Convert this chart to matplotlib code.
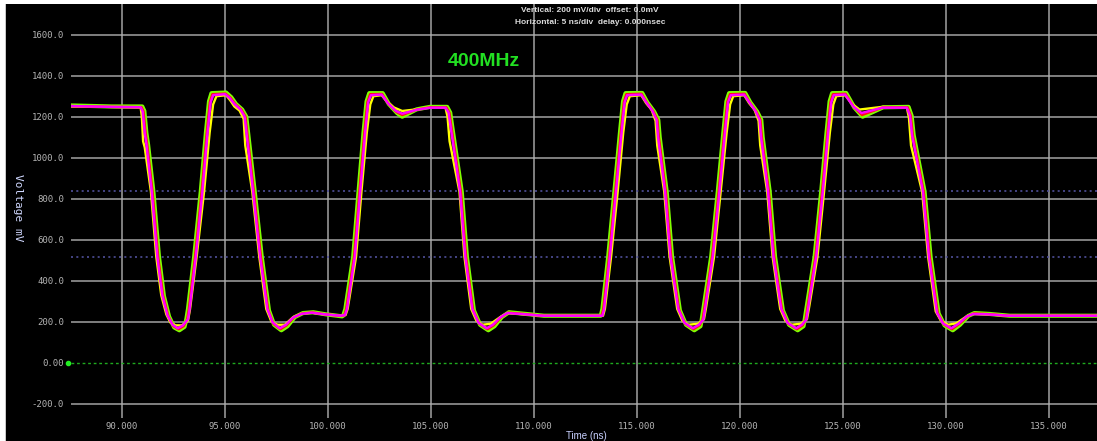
import matplotlib
matplotlib.use("Agg")
import matplotlib.pyplot as plt
from matplotlib.patches import Rectangle
import numpy as np

# axis ticks
y_ticks = [-200, 0, 200, 400, 600, 800, 1000, 1200, 1400, 1600]
y_tick_labels = ["-200.0", "0.00", "200.0", "400.0", "600.0", "800.0",
                 "1000.0", "1200.0", "1400.0", "1600.0"]
x_ticks = [90, 95, 100, 105, 110, 115, 120, 125, 130, 135]
x_tick_labels = ["90.000", "95.000", "100.000", "105.000", "110.000",
                 "115.000", "120.000", "125.000", "130.000", "135.000"]

# threshold markers (mV)
thresholds = [837, 516]

# traces: (time ns, voltage mV)
green_pts = [
    (87.5, 1255), (89.5, 1250), (90.98, 1250), (91.08, 1228), (91.18, 1120), (91.26, 1065),
    (91.52, 834), (91.79, 517), (92.03, 325), (92.28, 225), (92.53, 172), (92.78, 158),
    (93.03, 175), (93.12, 212),
    (93.2, 262), (93.5, 517), (93.82, 834), (94.07, 1122), (94.22, 1275), (94.34, 1315),
    (95.05, 1318), (95.3, 1295), (95.53, 1262), (95.83, 1235), (96.03, 1200), (96.13, 1110),
    (96.44, 834), (96.78, 517), (97.13, 255), (97.38, 185), (97.73, 158), (98.03, 178),
    (98.38, 222), (98.78, 242), (99.28, 246), (99.88, 236), (100.68, 226), (100.74, 230),
    (100.84, 262), (101.22, 517), (101.48, 834), (101.72, 1122), (101.87, 1275), (102.0, 1315),
    (102.65, 1315), (102.95, 1262), (103.35, 1218), (103.6, 1200), (104.3, 1236), (104.95, 1248),
    (105.78, 1248), (105.93, 1220), (106.03, 1150), (106.49, 834), (106.74, 517), (107.08, 255),
    (107.38, 185), (107.78, 158), (108.08, 178), (108.43, 222), (108.78, 246), (109.38, 240),
    (110.48, 229), (113.24, 229),
    (113.32, 262), (113.6, 517), (113.9, 834), (114.17, 1122), (114.32, 1275), (114.44, 1315),
    (115.25, 1316), (115.5, 1270), (115.83, 1225), (116.03, 1185), (116.1, 1100), (116.44, 834),
    (116.7, 517), (117.08, 255), (117.38, 185), (117.78, 158), (118.08, 178), (118.14, 210),
    (118.22, 262), (118.6, 517), (118.92, 834), (119.19, 1122), (119.34, 1275), (119.47, 1315),
    (120.25, 1316), (120.5, 1270), (120.83, 1225), (121.03, 1185), (121.1, 1100), (121.44, 834),
    (121.7, 517), (122.08, 255), (122.38, 185), (122.8, 158), (123.08, 178), (123.14, 210),
    (123.22, 262), (123.62, 517), (123.94, 834), (124.2, 1122), (124.35, 1275), (124.47, 1315),
    (125.15, 1316), (125.55, 1245), (125.95, 1200), (126.95, 1246), (128.18, 1248), (128.33, 1205),
    (128.43, 1110), (128.96, 834), (129.25, 517), (129.64, 240), (129.93, 182), (130.33, 158),
    (130.68, 185), (131.08, 228), (131.38, 242), (132.08, 238), (133.08, 229), (137.4, 229),
]

yellow_pts = [
    (87.5, 1250), (89.5, 1248), (90.9, 1245), (90.96, 1200), (91.02, 1080), (91.1, 1050),
    (91.4, 834), (91.66, 517), (91.9, 330), (92.15, 235), (92.35, 195), (92.6, 182),
    (92.9, 182), (93.2, 205),
    (93.3, 262), (93.62, 517), (93.98, 834), (94.25, 1122), (94.42, 1260), (94.58, 1300),
    (95.05, 1305), (95.25, 1280), (95.45, 1250), (95.7, 1230), (95.9, 1190), (95.98, 1060),
    (96.32, 834), (96.66, 517), (97.0, 262), (97.25, 200), (97.55, 185), (97.9, 185),
    (98.3, 222), (98.7, 240), (99.2, 244), (99.8, 236), (100.6, 229), (100.85, 232),
    (100.95, 262), (101.36, 517), (101.62, 834), (101.88, 1122), (102.05, 1260), (102.2, 1300),
    (102.6, 1305), (102.85, 1275), (103.2, 1245), (103.6, 1228), (104.3, 1236), (104.95, 1246),
    (105.7, 1244), (105.8, 1200), (105.9, 1080), (106.38, 834), (106.62, 517), (106.95, 262),
    (107.2, 205), (107.5, 185), (107.9, 190), (108.35, 222), (108.7, 242), (109.3, 238),
    (110.4, 229), (113.35, 229),
    (113.44, 262), (113.74, 517), (114.06, 834), (114.33, 1122), (114.5, 1260), (114.65, 1300),
    (115.2, 1305), (115.45, 1265), (115.7, 1235), (115.9, 1180), (115.98, 1060), (116.32, 834),
    (116.58, 517), (116.95, 262), (117.2, 205), (117.5, 185), (117.95, 190), (118.25, 212),
    (118.34, 262), (118.74, 517), (119.06, 834), (119.35, 1122), (119.52, 1260), (119.67, 1300),
    (120.2, 1305), (120.45, 1265), (120.7, 1235), (120.9, 1180), (120.98, 1060), (121.32, 834),
    (121.58, 517), (121.95, 262), (122.2, 205), (122.5, 185), (122.95, 190), (123.25, 212),
    (123.34, 262), (123.76, 517), (124.08, 834), (124.36, 1122), (124.53, 1260), (124.67, 1300),
    (125.1, 1305), (125.45, 1262), (125.8, 1235), (126.9, 1248), (128.1, 1244), (128.2, 1195),
    (128.3, 1060), (128.84, 834), (129.13, 517), (129.5, 250), (129.75, 205), (130.1, 185),
    (130.5, 192), (131.0, 226), (131.3, 238), (132.0, 236), (133.0, 229), (137.4, 229),
]

red_pts = [
    (87.5, 1252), (89.5, 1248), (90.94, 1247), (91.04, 1226), (91.14, 1120), (91.22, 1065),
    (91.48, 834), (91.75, 517), (91.99, 328), (92.24, 228), (92.49, 178), (92.74, 163),
    (92.99, 178), (93.16, 212),
    (93.24, 262), (93.54, 517), (93.86, 834), (94.11, 1122), (94.26, 1272), (94.38, 1310),
    (95.02, 1313), (95.26, 1293), (95.49, 1262), (95.79, 1235), (95.99, 1200), (96.09, 1110),
    (96.4, 834), (96.74, 517), (97.09, 258), (97.34, 190), (97.69, 163), (97.99, 182),
    (98.34, 221), (98.74, 240), (99.24, 245), (99.84, 236), (100.64, 228), (100.78, 231),
    (100.88, 262), (101.26, 517), (101.52, 834), (101.76, 1122), (101.91, 1272), (102.04, 1310),
    (102.62, 1311), (102.92, 1265), (103.32, 1223), (103.6, 1208), (104.3, 1235), (104.95, 1246),
    (105.74, 1246), (105.89, 1220), (105.99, 1150), (106.45, 834), (106.7, 517), (107.04, 258),
    (107.34, 190), (107.74, 163), (108.04, 182), (108.39, 221), (108.74, 244), (109.34, 239),
    (110.44, 229), (113.28, 229),
    (113.36, 262), (113.64, 517), (113.94, 834), (114.21, 1122), (114.36, 1272), (114.48, 1310),
    (115.22, 1312), (115.47, 1270), (115.79, 1226), (115.99, 1185), (116.06, 1100), (116.4, 834),
    (116.66, 517), (117.04, 258), (117.34, 190), (117.74, 163), (118.04, 182), (118.18, 210),
    (118.26, 262), (118.64, 517), (118.96, 834), (119.23, 1122), (119.38, 1272), (119.51, 1310),
    (120.22, 1312), (120.47, 1270), (120.79, 1226), (120.99, 1185), (121.06, 1100), (121.4, 834),
    (121.66, 517), (122.04, 258), (122.34, 190), (122.76, 163), (123.04, 182), (123.18, 210),
    (123.26, 262), (123.66, 517), (123.98, 834), (124.24, 1122), (124.39, 1272), (124.51, 1310),
    (125.12, 1312), (125.52, 1248), (125.92, 1208), (126.92, 1245), (128.14, 1246), (128.29, 1205),
    (128.39, 1110), (128.92, 834), (129.21, 517), (129.6, 242), (129.89, 187), (130.29, 163),
    (130.64, 188), (131.04, 226), (131.34, 240), (132.04, 237), (133.04, 229), (137.4, 229),
]

magenta_pts = [
    (87.5, 1252), (89.5, 1248), (90.9, 1246), (91.0, 1225), (91.1, 1120), (91.18, 1065),
    (91.44, 834), (91.71, 517), (91.95, 330), (92.2, 232), (92.45, 185), (92.7, 168),
    (92.95, 182), (93.2, 212),
    (93.28, 262), (93.58, 517), (93.9, 834), (94.15, 1122), (94.3, 1270), (94.42, 1305),
    (95.0, 1310), (95.22, 1292), (95.45, 1262), (95.75, 1235), (95.95, 1200), (96.05, 1110),
    (96.36, 834), (96.7, 517), (97.05, 262), (97.3, 198), (97.65, 168), (97.95, 185),
    (98.3, 220), (98.7, 238), (99.2, 244), (99.8, 236), (100.6, 229), (100.82, 232),
    (100.92, 262), (101.3, 517), (101.56, 834), (101.8, 1122), (101.95, 1270), (102.08, 1305),
    (102.6, 1308), (102.9, 1267), (103.3, 1228), (103.6, 1215), (104.3, 1234), (104.95, 1244),
    (105.7, 1244), (105.85, 1220), (105.95, 1150), (106.41, 834), (106.66, 517), (107.0, 262),
    (107.3, 195), (107.7, 168), (108.0, 185), (108.35, 220), (108.7, 242), (109.3, 238),
    (110.4, 229), (113.32, 229),
    (113.4, 262), (113.68, 517), (113.98, 834), (114.25, 1122), (114.4, 1270), (114.52, 1305),
    (115.2, 1308), (115.45, 1270), (115.75, 1228), (115.95, 1185), (116.02, 1100), (116.36, 834),
    (116.62, 517), (117.0, 262), (117.3, 195), (117.7, 168), (118.0, 185), (118.22, 210),
    (118.3, 262), (118.68, 517), (119.0, 834), (119.27, 1122), (119.42, 1270), (119.55, 1305),
    (120.2, 1308), (120.45, 1270), (120.75, 1228), (120.95, 1185), (121.02, 1100), (121.36, 834),
    (121.62, 517), (122.0, 262), (122.3, 195), (122.72, 168), (123.0, 185), (123.22, 210),
    (123.3, 262), (123.7, 517), (124.02, 834), (124.28, 1122), (124.43, 1270), (124.55, 1305),
    (125.1, 1308), (125.5, 1250), (125.9, 1218), (126.9, 1244), (128.1, 1244), (128.25, 1205),
    (128.35, 1110), (128.88, 834), (129.17, 517), (129.56, 244), (129.85, 192), (130.25, 168),
    (130.6, 190), (131.0, 225), (131.3, 237), (132.0, 236), (133.0, 229), (137.4, 229),
]

traces = [
    (green_pts, "#7fff00", 3.0),
    (yellow_pts, "#ffff00", 1.7),
    (red_pts, "#ff1010", 1.7),
    (magenta_pts, "#ff00ff", 1.8),
]

fig = plt.figure(figsize=(10.97, 4.41), dpi=100)
fig.patch.set_facecolor("black")

# white frame on the left and top edges of the screenshot
fig.add_artist(Rectangle((0, 0), 5 / 1097, 1, transform=fig.transFigure,
                         facecolor="white", edgecolor="none"))
fig.add_artist(Rectangle((0, 1 - 4 / 441), 1, 4 / 441, transform=fig.transFigure,
                         facecolor="white", edgecolor="none"))
fig.add_artist(Rectangle((5 / 1097, 0), 1 / 1097, 1 - 4 / 441, transform=fig.transFigure,
                         facecolor="#c8c8c8", edgecolor="none"))

ax = fig.add_axes([71 / 1097, 23 / 441, 1 - 71 / 1097, 414 / 441])
ax.set_facecolor("black")
ax.set_xlim(87.52, 137.33)
ax.set_ylim(-270, 1750)
for s in ax.spines.values():
    s.set_visible(False)

ax.set_xticks(x_ticks)
ax.set_xticklabels(x_tick_labels)
ax.set_yticks(y_ticks)
ax.set_yticklabels(y_tick_labels)
ax.tick_params(length=0, colors="#b4b4b4", labelsize=6.5)
ax.tick_params(axis="y", pad=5)
ax.tick_params(axis="x", pad=3)
for lab in ax.get_xticklabels() + ax.get_yticklabels():
    lab.set_family("DejaVu Sans Mono")

ax.grid(True, color="#b0b0b0", linewidth=1.2, alpha=0.85)
ax.set_axisbelow(True)
# no grey grid line at zero, the green reference line sits there
ax.yaxis.get_gridlines()[y_ticks.index(0)].set_visible(False)

ax.axhline(0, color="#1faa1f", linewidth=1.0, linestyle=(0, (2, 2)), zorder=1)
ax.plot([87.38], [0], marker="o", markersize=3, color="#22ee22",
        clip_on=False, zorder=3)
for th in thresholds:
    ax.axhline(th, color="#50509a", linewidth=1.2, linestyle=(0, (1.2, 2)), zorder=1)

for pts, col, lw in traces:
    t, v = np.array(pts).T
    ax.plot(t, v, color=col, linewidth=lw, solid_joinstyle="round", zorder=4)

fig.text(448 / 1097, 1 - 62 / 441, "400MHz", color="#22e022", fontsize=14,
         fontweight="bold", family="Liberation Sans", ha="left", va="center")

fig.text(590 / 1097, 1 - 10 / 441, "Vertical: 200 mV/div  offset: 0.0mV",
         color="#dcdcdc", fontsize=6, fontweight="bold", family="Liberation Sans",
         ha="center", va="center")
fig.text(590 / 1097, 1 - 22 / 441, "Horizontal: 5 ns/div  delay: 0.000nsec",
         color="#dcdcdc", fontsize=6, fontweight="bold", family="Liberation Sans",
         ha="center", va="center")

fig.text(586 / 1097, 1 - 436 / 441, "Time (ns)", color="#c8d0ff", fontsize=7,
         family="Liberation Sans", ha="center", va="center")
fig.text(18 / 1097, 1 - 208 / 441, "Voltage mV", color="#d0d8ff", fontsize=8,
         family="DejaVu Sans Mono", rotation=270, ha="center", va="center")

fig.savefig("out.png", dpi=100, facecolor=fig.get_facecolor())
